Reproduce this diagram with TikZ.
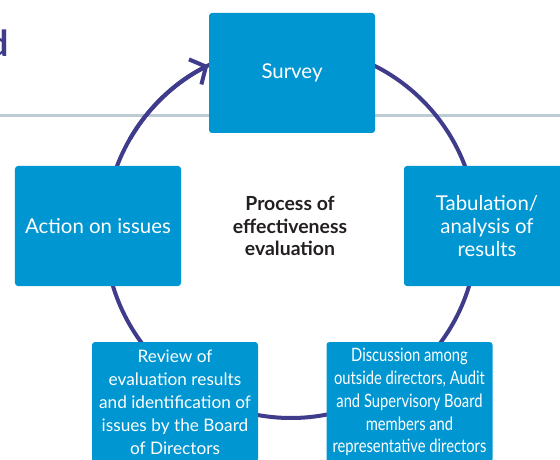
\documentclass[tikz,border=0pt]{standalone}
\usepackage{fontspec}
\setmainfont{Lato}
\newfontfamily\narrowfont[FakeStretch=0.8]{Lato}
\usetikzlibrary{arrows.meta}
\definecolor{boxblue}{RGB}{0,150,209}
\definecolor{ringblue}{RGB}{63,60,140}
\definecolor{rulegray}{RGB}{188,203,212}
\definecolor{titlegray}{RGB}{35,31,32}
\tikzset{
  stagebox/.style={draw=none,fill=boxblue,rounded corners=3bp,text=white,align=center,
    minimum width=166bp,minimum height=120bp,inner sep=0,font=\fontsize{20.5}{23.5}\selectfont},
  smallstage/.style={stagebox,font=\fontsize{17.3}{23}\selectfont},
  ring/.style={draw=ringblue,line width=4bp}
}

\begin{document}
\begin{tikzpicture}[x=1bp,y=-1bp]
  \useasboundingbox (0,0) rectangle (560,460);
  \clip (0,0) rectangle (560,460);
  % cut-off heading and rule
  \node[anchor=base east,inner sep=0,text=ringblue,font=\bfseries\fontsize{36}{40}\selectfont] (head) at (9,57) {d};
  \coordinate (ruleL) at (0,116);
  \coordinate (ruleR) at (560,116);
  \draw[rulegray,line width=3bp] (ruleL) -- (ruleR);
  % cycle ring, arrow ends at survey
  \coordinate (ctr) at (291,232);
  \draw[ring] (ctr) circle[radius=186bp];
  \draw[ring,-{Straight Barb[length=12bp,width=28bp,line width=4bp]}]
    ([shift={(150:186bp)}]ctr) arc[start angle=150,end angle=116.4,radius=186bp];
  % stages
  \node[stagebox] (survey) at (292,73) {Survey};
  \node[stagebox] (tab) at (487,226) {Tabulation/\\analysis of\\results};
  \node[smallstage,font=\narrowfont\fontsize{18.5}{23}\selectfont] (disc) at (409.5,402)
       {Discussion among\\outside directors, Audit\\and Supervisory Board\\members and\\representative directors};
  \node[smallstage] (review) at (175,402)
       {Review of\\evaluation results\\and identification of\\issues by the Board\\of Directors};
  \node[stagebox] (action) at (98,226) {Action on issues};
  % centre label
  \node[align=center,text=titlegray,font=\bfseries\fontsize{19.5}{23}\selectfont] (title) at (290,226)
       {Process of\\effectiveness\\evaluation};
\end{tikzpicture}
\end{document}
